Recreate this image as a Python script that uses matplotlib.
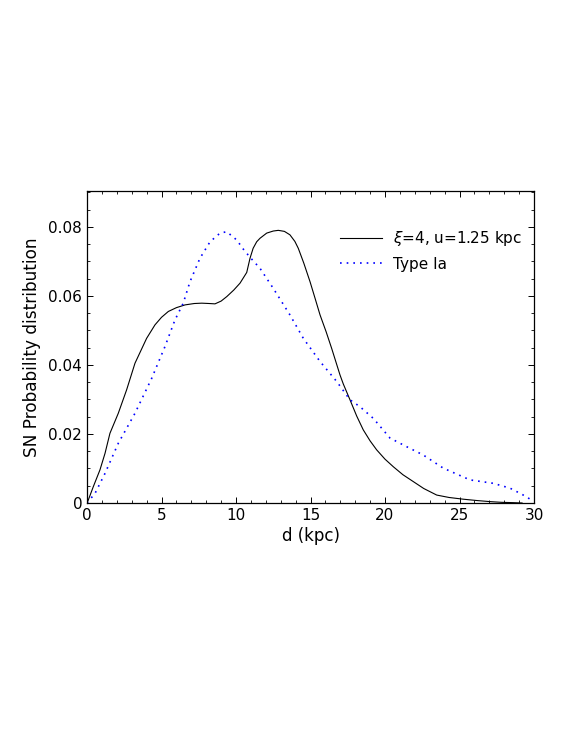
import matplotlib
matplotlib.use("Agg")
import matplotlib.pyplot as plt
from matplotlib.ticker import MultipleLocator

# Solid curve: xi=4, u=1.25 kpc
d_solid = [0, 0.09, 0.42, 0.87, 1.21, 1.54, 2.1, 2.66, 3.22, 4.0, 4.56, 5.0, 5.46, 6.0, 6.58,
           7.2, 7.7, 8.2, 8.59, 9.0, 9.38, 9.85, 10.27, 10.72, 10.94, 11.15, 11.39, 11.61, 12.06,
           12.5, 12.84, 13.25, 13.62, 13.95, 14.18, 14.55, 14.97, 15.3, 15.64, 16.05, 16.42, 16.98,
           17.2, 17.65, 18.1, 18.54, 19.0, 19.44, 20.0, 20.56, 21.2, 21.9, 22.6, 23.47, 24.3, 25.26,
           26.2, 27.05, 27.8, 28.6, 29.2]
v_solid = [0, 0.0009, 0.0047, 0.0096, 0.0144, 0.0202, 0.026, 0.0328, 0.0405, 0.0477, 0.0516,
           0.0538, 0.0555, 0.0566, 0.0574, 0.0578, 0.0579, 0.0578, 0.0577, 0.0585, 0.0598, 0.0617,
           0.0637, 0.0668, 0.0709, 0.0738, 0.0757, 0.0767, 0.0782, 0.0788, 0.0790, 0.0787, 0.0777,
           0.0758, 0.0738, 0.0695, 0.0641, 0.0594, 0.0545, 0.0496, 0.0448, 0.0371, 0.0345, 0.0299,
           0.0252, 0.0212, 0.018, 0.0154, 0.0127, 0.0105, 0.0082, 0.0062, 0.0042, 0.0023, 0.0016,
           0.0011, 0.0007, 0.0004, 0.0002, 0.0001, 0.0]

# Dotted curve: Type Ia
d_ia = [0, 0.54, 1.21, 2.1, 3.22, 4.34, 5.23, 5.9, 6.46, 6.91, 7.58, 8.26, 8.93, 9.38, 10.05,
        10.5, 10.94, 11.61, 12.5, 13.62, 14.52, 15.64, 16.76, 17.65, 18.32, 19.22, 20.34, 21.46,
        22.57, 23.91, 25.7, 27.27, 28.39, 29.2, 29.9]
v_ia = [0, 0.0028, 0.0086, 0.0173, 0.026, 0.0361, 0.0453, 0.053, 0.0579, 0.0641, 0.0709, 0.0757,
        0.0782, 0.0786, 0.0762, 0.0735, 0.0712, 0.068, 0.0622, 0.0545, 0.0477, 0.041, 0.0352,
        0.0299, 0.0279, 0.0245, 0.0188, 0.0163, 0.0139, 0.0101, 0.0067, 0.0057, 0.0043, 0.0025,
        0.0007]

label_solid = r"$\xi$=4, u=1.25 kpc"
label_ia = "Type Ia"
xlabel = "d (kpc)"
ylabel = "SN Probability distribution"
ytick_vals = [0, 0.02, 0.04, 0.06, 0.08]
ytick_labels = ["0", "0.02", "0.04", "0.06", "0.08"]

fig = plt.figure(figsize=(5.81, 7.52), dpi=100)
ax = fig.add_axes([87/581, 1-503/752, (534-87)/581, (503-191)/752])

ax.plot(d_solid, v_solid, color="black", lw=0.8, label=label_solid)
ax.plot(d_ia, v_ia, color="blue", lw=1.2, linestyle=(0, (1, 3)), label=label_ia)

ax.set_xlim(0, 30)
ax.set_ylim(0, 0.0904)
ax.xaxis.set_major_locator(MultipleLocator(5))
ax.xaxis.set_minor_locator(MultipleLocator(1))
ax.yaxis.set_minor_locator(MultipleLocator(0.005))
ax.set_yticks(ytick_vals)
ax.set_yticklabels(ytick_labels)
ax.tick_params(which="both", direction="in", top=True, right=True, labelsize=11)
ax.tick_params(which="major", length=4.5, width=0.7)
ax.tick_params(which="minor", length=2.5, width=0.6)
for s in ax.spines.values():
    s.set_linewidth(0.9)

ax.set_xlabel(xlabel, fontsize=12, labelpad=3)
ax.set_ylabel(ylabel, fontsize=12.2, labelpad=5)

ax.legend(loc="upper left", bbox_to_anchor=(0.566, 0.877), frameon=False, fontsize=11,
          handlelength=2.75, handletextpad=0.75, labelspacing=0.55,
          borderpad=0, borderaxespad=0)

fig.savefig("out.png", dpi=100)
